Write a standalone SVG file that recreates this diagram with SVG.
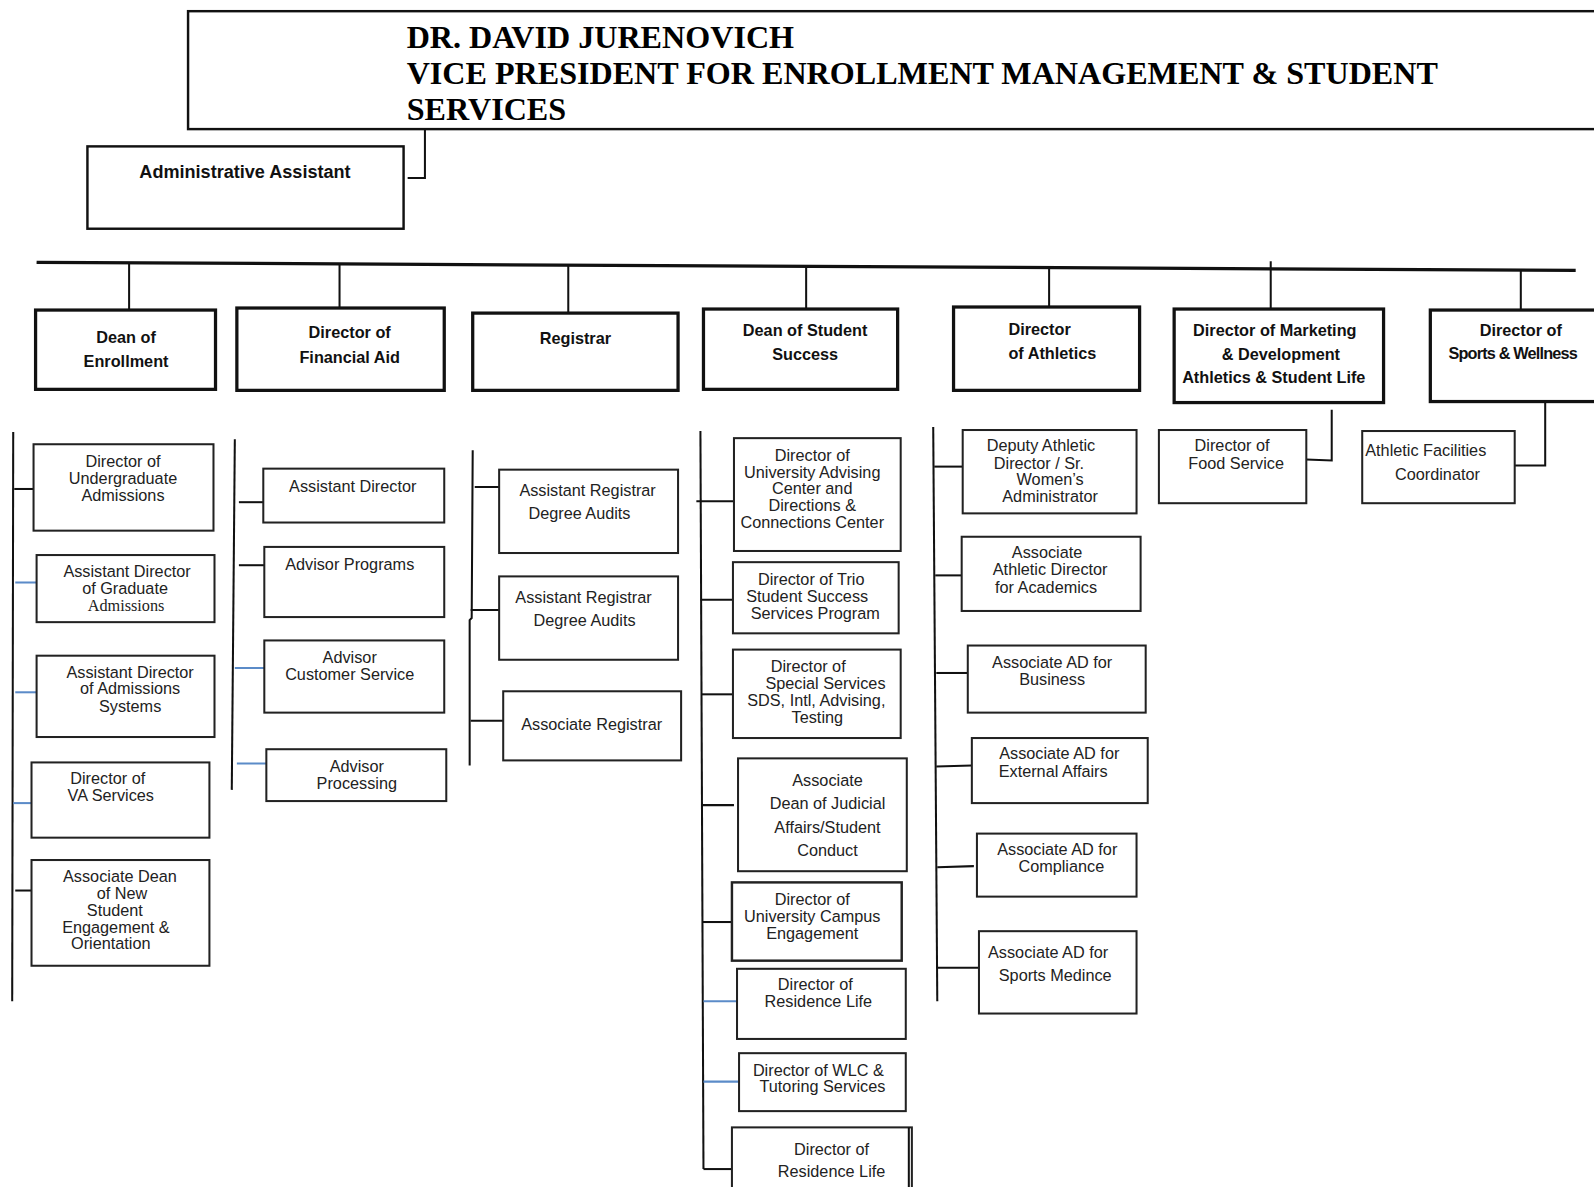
<svg xmlns="http://www.w3.org/2000/svg" width="1594" height="1187" viewBox="0 0 1594 1187">
<style>
.hdr{font-family:"Liberation Serif","Times New Roman",serif;font-weight:bold;font-size:31.6px;fill:#000}
.b1{fill:#fff;stroke:#111;stroke-width:3.2}
.b2{fill:#fff;stroke:#222;stroke-width:2}
.t1{font-family:"Liberation Sans",Arial,sans-serif;font-weight:bold;font-size:16px;fill:#111;text-anchor:middle}
.t2{font-family:"Liberation Sans",Arial,sans-serif;font-size:16px;fill:#222;text-anchor:middle}
.ln{stroke:#111;stroke-width:2;fill:none}
.lb{stroke:#5b8bc8;stroke-width:2;fill:none}
.bar{stroke:#111;stroke-width:3.2;fill:none}
</style>
<rect width="1594" height="1187" fill="#fff"/>
<g transform="scale(1.01658)">
<g id="connectors">
<polyline class="ln" points="418,127 418,175 401,175"/>
<line class="bar" x1="36" y1="258" x2="1550" y2="266"/>
<line class="ln" x1="127" y1="259" x2="127" y2="305"/>
<line class="ln" x1="334" y1="260" x2="334" y2="303"/>
<line class="ln" x1="559" y1="261" x2="559" y2="308"/>
<line class="ln" x1="793" y1="262" x2="793" y2="315"/>
<line class="ln" x1="1032" y1="263" x2="1032" y2="312"/>
<line class="ln" x1="1250" y1="257" x2="1250" y2="304"/>
<line class="ln" x1="1496" y1="266" x2="1496" y2="309"/>
<!-- column 1 -->
<line class="ln" x1="13" y1="425" x2="12" y2="985"/>
<line class="ln" x1="14" y1="481" x2="33" y2="481"/>
<line class="lb" x1="15" y1="573" x2="38" y2="573"/>
<line class="lb" x1="15" y1="681" x2="38" y2="681"/>
<line class="lb" x1="13" y1="790" x2="33" y2="790"/>
<line class="ln" x1="15" y1="876" x2="31" y2="876"/>
<!-- column 2 -->
<line class="ln" x1="231" y1="432" x2="228" y2="777"/>
<line class="ln" x1="235" y1="494" x2="259" y2="494"/>
<line class="ln" x1="235" y1="556" x2="260" y2="556"/>
<line class="lb" x1="231" y1="657" x2="262" y2="657"/>
<line class="lb" x1="233" y1="751" x2="265" y2="751"/>
<!-- column 3 -->
<polyline class="ln" points="465,443 464,608 462,610 462,753"/>
<line class="ln" x1="467" y1="479" x2="501" y2="479"/>
<line class="ln" x1="463" y1="600" x2="504" y2="600"/>
<line class="ln" x1="463" y1="709" x2="506" y2="709"/>
<!-- column 4 -->
<line class="ln" x1="689" y1="424" x2="692" y2="1150"/>
<line class="ln" x1="685" y1="493" x2="722" y2="493"/>
<line class="ln" x1="689" y1="590" x2="721" y2="590"/>
<line class="ln" x1="690" y1="683" x2="721" y2="683"/>
<line class="ln" x1="690" y1="792" x2="722" y2="792"/>
<line class="ln" x1="691" y1="907" x2="720" y2="907"/>
<line class="lb" x1="692" y1="985" x2="725" y2="985"/>
<line class="lb" x1="692" y1="1064" x2="727" y2="1064"/>
<line class="ln" x1="692" y1="1150" x2="720" y2="1150"/>
<!-- column 5 -->
<line class="ln" x1="918" y1="420" x2="922" y2="985"/>
<line class="ln" x1="919" y1="459" x2="947" y2="459"/>
<line class="ln" x1="920" y1="566" x2="946" y2="566"/>
<line class="ln" x1="921" y1="662" x2="952" y2="662"/>
<line class="ln" x1="921" y1="754" x2="956" y2="753"/>
<line class="ln" x1="922" y1="853" x2="958" y2="852"/>
<line class="ln" x1="922" y1="952" x2="963" y2="952"/>
<!-- column 6/7 -->
<polyline class="ln" points="1310,403 1310,453 1285,452"/>
<polyline class="ln" points="1520,395 1520,458 1490,458"/>
</g>

<g id="vp">
<rect x="185" y="11" width="1420" height="116" fill="#fff" stroke="#111" stroke-width="2.4"/>
<text class="hdr" x="400" y="47">DR. DAVID JURENOVICH</text>
<text class="hdr" x="400" y="83">VICE PRESIDENT FOR ENROLLMENT MANAGEMENT &amp; STUDENT</text>
<text class="hdr" x="400" y="118">SERVICES</text>
</g>
<g id="admin-assistant">
<rect x="86" y="144" width="311" height="81" fill="#fff" stroke="#111" stroke-width="2.4"/>
<text class="t1" x="241" y="175" style="font-size:17.8px">Administrative Assistant</text>
</g>

<g id="dean-enrollment"><rect class="b1" x="35" y="305" width="177" height="78"/><text class="t1" x="124" y="337">Dean of</text><text class="t1" x="124" y="361">Enrollment</text></g>
<g id="dir-financial-aid"><rect class="b1" x="233" y="303" width="204" height="81"/><text class="t1" x="344" y="332">Director of</text><text class="t1" x="344" y="357">Financial Aid</text></g>
<g id="registrar"><rect class="b1" x="465" y="308" width="202" height="76"/><text class="t1" x="566" y="338">Registrar</text></g>
<g id="dean-student-success"><rect class="b1" x="692" y="304" width="191" height="79"/><text class="t1" x="792" y="331">Dean of Student</text><text class="t1" x="792" y="354">Success</text></g>
<g id="dir-athletics"><rect class="b1" x="938" y="302" width="183" height="82"/><text class="t1" x="992" y="330" style="text-anchor:start">Director</text><text class="t1" x="992" y="353" style="text-anchor:start">of Athletics</text></g>
<g id="dir-marketing"><rect class="b1" x="1155" y="304" width="206" height="92"/><text class="t1" x="1254" y="331">Director of Marketing</text><text class="t1" x="1260" y="354">&amp; Development</text><text class="t1" x="1253" y="377">Athletics &amp; Student Life</text></g>
<g id="dir-sports-wellness"><rect class="b1" x="1407" y="305" width="200" height="90"/><text class="t1" x="1496" y="331">Director of</text><text class="t1" x="1488" y="353" style="letter-spacing:-0.8px">Sports &amp; Wellness</text></g>

<!-- column 1 -->
<g id="dir-undergrad-admissions"><rect class="b2" x="33" y="437" width="177" height="85"/><text class="t2" x="121" y="459">Director of</text><text class="t2" x="121" y="476">Undergraduate</text><text class="t2" x="121" y="493">Admissions</text></g>
<g id="asst-dir-grad-admissions"><rect class="b2" x="36" y="546" width="175" height="66"/><text class="t2" x="125" y="568">Assistant Director</text><text class="t2" x="123" y="584">of Graduate</text><text class="t2" x="124" y="601" style="font-family:'Liberation Serif',serif">Admissions</text></g>
<g id="asst-dir-admissions-systems"><rect class="b2" x="36" y="645" width="175" height="80"/><text class="t2" x="128" y="667">Assistant Director</text><text class="t2" x="128" y="683">of Admissions</text><text class="t2" x="128" y="700">Systems</text></g>
<g id="dir-va-services"><rect class="b2" x="31" y="750" width="175" height="74"/><text class="t2" x="106" y="771">Director of</text><text class="t2" x="109" y="788">VA Services</text></g>
<g id="assoc-dean-new-student"><rect class="b2" x="31" y="846" width="175" height="104"/><text class="t2" x="118" y="868">Associate Dean</text><text class="t2" x="120" y="884">of New</text><text class="t2" x="113" y="901">Student</text><text class="t2" x="114" y="918">Engagement &amp;</text><text class="t2" x="109" y="934">Orientation</text></g>

<!-- column 2 -->
<g id="fa-assistant-director"><rect class="b2" x="259" y="461" width="178" height="53"/><text class="t2" x="347" y="484">Assistant Director</text></g>
<g id="fa-advisor-programs"><rect class="b2" x="260" y="538" width="177" height="69"/><text class="t2" x="344" y="561">Advisor Programs</text></g>
<g id="fa-advisor-customer-service"><rect class="b2" x="260" y="630" width="177" height="71"/><text class="t2" x="344" y="652">Advisor</text><text class="t2" x="344" y="669">Customer Service</text></g>
<g id="fa-advisor-processing"><rect class="b2" x="262" y="737" width="177" height="51"/><text class="t2" x="351" y="759">Advisor</text><text class="t2" x="351" y="776">Processing</text></g>

<!-- column 3 -->
<g id="asst-registrar-1"><rect class="b2" x="491" y="462" width="176" height="82"/><text class="t2" x="578" y="488">Assistant Registrar</text><text class="t2" x="570" y="511">Degree Audits</text></g>
<g id="asst-registrar-2"><rect class="b2" x="491" y="567" width="176" height="82"/><text class="t2" x="574" y="593">Assistant Registrar</text><text class="t2" x="575" y="616">Degree Audits</text></g>
<g id="assoc-registrar"><rect class="b2" x="495" y="680" width="175" height="68"/><text class="t2" x="582" y="718">Associate Registrar</text></g>

<!-- column 4 -->
<g id="dir-univ-advising"><rect class="b2" x="722" y="431" width="164" height="111"/><text class="t2" x="799" y="453">Director of</text><text class="t2" x="799" y="470">University Advising</text><text class="t2" x="799" y="486">Center and</text><text class="t2" x="799" y="503">Directions &amp;</text><text class="t2" x="799" y="519">Connections Center</text></g>
<g id="dir-trio"><rect class="b2" x="721" y="553" width="163" height="70"/><text class="t2" x="798" y="575">Director of Trio</text><text class="t2" x="794" y="592">Student Success</text><text class="t2" x="802" y="609">Services Program</text></g>
<g id="dir-special-services"><rect class="b2" x="721" y="639" width="165" height="87"/><text class="t2" x="795" y="661">Director of</text><text class="t2" x="812" y="678">Special Services</text><text class="t2" x="803" y="694">SDS, Intl, Advising,</text><text class="t2" x="804" y="711">Testing</text></g>
<g id="assoc-dean-judicial"><rect class="b2" x="726" y="746" width="166" height="111"/><text class="t2" x="814" y="773">Associate</text><text class="t2" x="814" y="796">Dean of Judicial</text><text class="t2" x="814" y="819">Affairs/Student</text><text class="t2" x="814" y="842">Conduct</text></g>
<g id="dir-campus-engagement"><rect class="b2" x="720" y="868" width="167" height="77" style="stroke-width:2.4"/><text class="t2" x="799" y="890">Director of</text><text class="t2" x="799" y="907">University Campus</text><text class="t2" x="799" y="924">Engagement</text></g>
<g id="dir-residence-life-1"><rect class="b2" x="725" y="953" width="166" height="69"/><text class="t2" x="802" y="974">Director of</text><text class="t2" x="805" y="991">Residence Life</text></g>
<g id="dir-wlc-tutoring"><rect class="b2" x="727" y="1036" width="164" height="57"/><text class="t2" x="805" y="1058">Director of WLC &amp;</text><text class="t2" x="809" y="1074">Tutoring Services</text></g>
<g id="dir-residence-life-2"><rect class="b2" x="720" y="1109" width="177" height="80"/><line class="ln" x1="894" y1="1109" x2="894" y2="1189"/><text class="t2" x="818" y="1136">Director of</text><text class="t2" x="818" y="1158">Residence Life</text></g>

<!-- column 5 -->
<g id="deputy-ad"><rect class="b2" x="947" y="423" width="171" height="82"/><text class="t2" x="1024" y="444">Deputy Athletic</text><text class="t2" x="1022" y="461">Director / Sr.</text><text class="t2" x="1033" y="477">Women’s</text><text class="t2" x="1033" y="494">Administrator</text></g>
<g id="assoc-ad-academics"><rect class="b2" x="946" y="528" width="176" height="73"/><text class="t2" x="1030" y="549">Associate</text><text class="t2" x="1033" y="566">Athletic Director</text><text class="t2" x="1029" y="583">for Academics</text></g>
<g id="assoc-ad-business"><rect class="b2" x="952" y="635" width="175" height="66"/><text class="t2" x="1035" y="657">Associate AD for</text><text class="t2" x="1035" y="674">Business</text></g>
<g id="assoc-ad-external"><rect class="b2" x="956" y="726" width="173" height="64"/><text class="t2" x="1042" y="747">Associate AD for</text><text class="t2" x="1036" y="764">External Affairs</text></g>
<g id="assoc-ad-compliance"><rect class="b2" x="961" y="820" width="157" height="62"/><text class="t2" x="1040" y="841">Associate AD for</text><text class="t2" x="1044" y="858">Compliance</text></g>
<g id="assoc-ad-sports-medicine"><rect class="b2" x="963" y="916" width="155" height="81"/><text class="t2" x="1031" y="942">Associate AD for</text><text class="t2" x="1038" y="965">Sports Medince</text></g>

<!-- columns 6/7 -->
<g id="dir-food-service"><rect class="b2" x="1140" y="423" width="145" height="72"/><text class="t2" x="1212" y="444">Director of</text><text class="t2" x="1216" y="461">Food Service</text></g>
<g id="athletic-facilities"><rect class="b2" x="1340" y="424" width="150" height="71"/><text class="t2" x="1343" y="449" style="text-anchor:start">Athletic Facilities</text><text class="t2" x="1414" y="472">Coordinator</text></g>
</g>
</svg>
